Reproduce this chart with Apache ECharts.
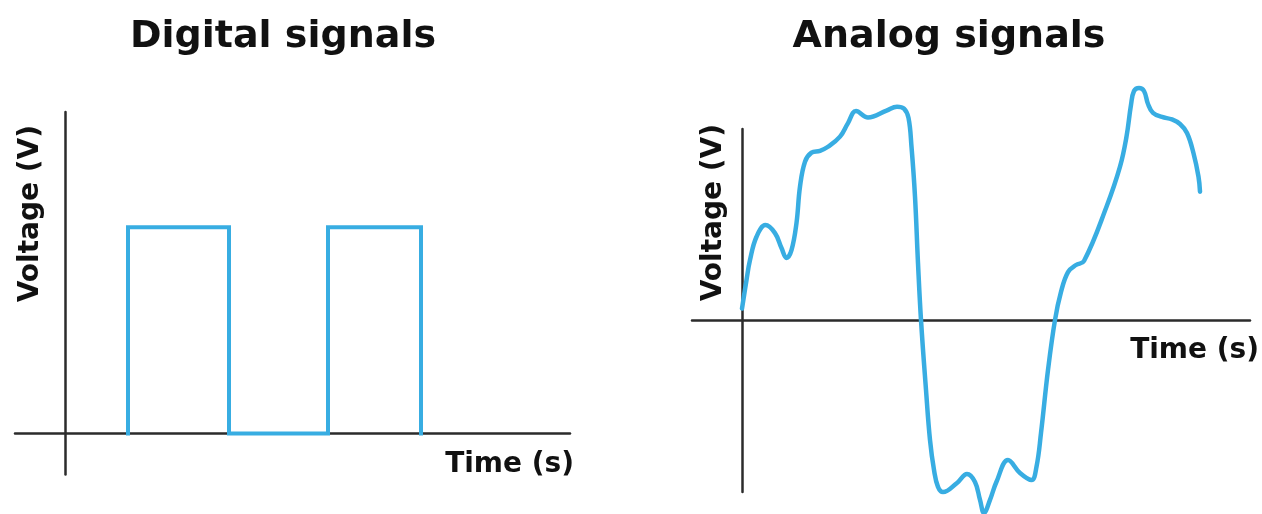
<!DOCTYPE html>
<html><head><meta charset="utf-8">
<script src="https://cdn.jsdelivr.net/npm/echarts@6/dist/echarts.min.js"></script>
<style>html,body{margin:0;padding:0;background:#fff}#c{width:1262px;height:514px}</style>
</head><body><div id="c"></div>
<script>
// ---- data ----
const titles = ['Digital signals', 'Analog signals'];
const xName = 'Time (s)';
const yName = 'Voltage (V)';

const digitalTime    = [1.26, 1.26, 3.28, 3.28, 5.26, 5.26, 7.12, 7.12];
const digitalVoltage = [0,    5,    5,    0,    0,    5,    5,    0];

const analogTime = [0.00,0.09,0.16,0.29,0.47,0.66,0.79,0.89,0.99,1.09,1.16,1.26,1.39,1.56,1.72,1.96,2.12,2.28,2.52,2.89,3.10,3.24,3.33,3.39,3.46,3.52,3.58,3.68,3.76,3.84,3.92,4.02,4.30,4.50,4.66,4.76,4.84,4.96,5.09,5.32,5.56,5.79,5.89,5.98,6.12,6.26,6.38,6.52,6.68,6.84,7.29,7.56,7.69,7.78,7.84,7.94,8.04,8.12,8.22,8.40,8.60,8.76,8.90,9.03,9.13,9.16];
const analogVoltage = [0.6,2.09,3.14,4.36,4.97,4.55,3.77,3.25,3.66,5.08,6.98,8.29,8.76,8.86,9.07,9.60,10.31,10.94,10.60,10.96,11.17,11.07,10.58,9.07,6.46,2.98,0,-3.66,-6.28,-7.85,-8.74,-9.01,-8.53,-8.06,-8.48,-9.42,-10.10,-9.42,-8.47,-7.33,-8.01,-8.38,-7.68,-5.92,-2.62,0,1.47,2.51,2.88,3.09,5.93,8.03,9.60,11.26,11.99,12.15,11.99,11.31,10.84,10.63,10.50,10.26,9.79,8.73,7.50,6.72];

// ---- styles ----
const BLUE = '#38ade2';
const AXIS = '#2b2b2b';
const FONT = 'DejaVu Sans';

function pairs(xs, ys) { return xs.map((x, i) => [x, ys[i]]); }

function xAxisFor(gi, min, max, gap) {
  return {
    type: 'value', gridIndex: gi, min: min, max: max,
    axisLine: { show: true, onZero: true, lineStyle: { color: AXIS, width: 2.5 } },
    axisTick: { show: false }, axisLabel: { show: false }, splitLine: { show: false },
    name: xName, nameLocation: 'end', nameGap: gap,
    nameTextStyle: { fontFamily: FONT, fontWeight: 'bold', fontSize: 28, color: '#111',
      align: 'right', verticalAlign: 'top', padding: [17, 0, 0, 0] }
  };
}
function yAxisFor(gi, min, max, gap, pad) {
  return {
    type: 'value', gridIndex: gi, min: min, max: max,
    axisLine: { show: true, onZero: true, lineStyle: { color: AXIS, width: 2.5 } },
    axisTick: { show: false }, axisLabel: { show: false }, splitLine: { show: false },
    name: yName, nameLocation: 'end', nameGap: gap, nameRotate: 90,
    nameTextStyle: { fontFamily: FONT, fontWeight: 'bold', fontSize: 28, color: '#111',
      align: 'right', verticalAlign: 'bottom', padding: [0, 0, pad, 0] }
  };
}

const chart = echarts.init(document.getElementById('c'), null, { renderer: 'canvas' });
chart.setOption({
  animation: false,
  backgroundColor: '#fff',
  title: [
    { text: titles[0], left: 283, top: 18, padding: 0, textAlign: 'center',
      textStyle: { fontFamily: FONT, fontWeight: 'bold', fontSize: 38, color: '#111' } },
    { text: titles[1], left: 949, top: 18, padding: 0, textAlign: 'center',
      textStyle: { fontFamily: FONT, fontWeight: 'bold', fontSize: 38, color: '#111' } }
  ],
  grid: [
    { left: 15, right: 692, top: 112, bottom: 39.4, containLabel: false },
    { left: 692, right: 12, top: 129, bottom: 22.1, containLabel: false }
  ],
  xAxis: [ xAxisFor(0, -1, 10.1, 4), xAxisFor(1, -1, 10.16, 9) ],
  yAxis: [ yAxisFor(0, -1, 7.8, -13, 20), yAxisFor(1, -9, 10, 5, 14) ],
  series: [
    { type: 'line', xAxisIndex: 0, yAxisIndex: 0, data: pairs(digitalTime, digitalVoltage),
      showSymbol: false, clip: false, silent: true,
      lineStyle: { color: BLUE, width: 4, join: 'miter', cap: 'square' } },
    { type: 'line', xAxisIndex: 1, yAxisIndex: 1, data: pairs(analogTime, analogVoltage),
      showSymbol: false, clip: false, silent: true, smooth: 0.4,
      lineStyle: { color: BLUE, width: 4.5, cap: 'round', join: 'round' } }
  ]
});
</script>
</body></html>
